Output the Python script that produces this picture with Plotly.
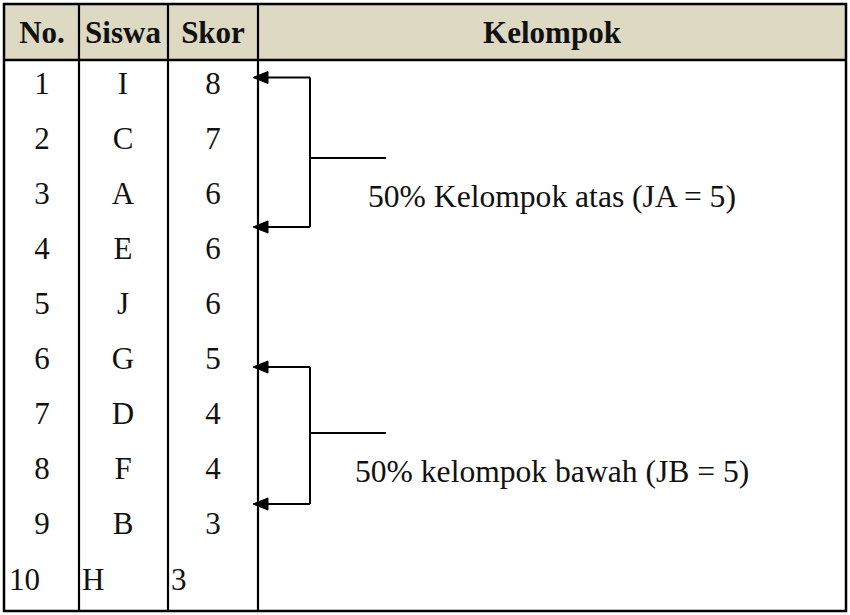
import plotly.graph_objects as go

# ---- data ----
headers = ["No.", "Siswa", "Skor", "Kelompok"]
nomor = [1, 2, 3, 4, 5, 6, 7, 8, 9, 10]
siswa = ["I", "C", "A", "E", "J", "G", "D", "F", "B", "H"]
skor = [8, 7, 6, 6, 6, 5, 4, 4, 3, 3]
group_labels = ["50% Kelompok atas (JA = 5)", "50% kelompok bawah (JB = 5)"]
group_rows = [3, 8]

# ---- layout helpers (pixel -> row units) ----
ROW0, STEP = 82.5, 55.0
def r(p):
    return 1 + (p - ROW0) / STEP

TXT_DY = 3.5 / STEP  # small vertical text nudge

W, H = 850, 615
col_x = [4, 79, 168, 258, 846]
col_center = [42, 123, 213, 552]
left_pad = [9, 82, 171]

FONT = "Liberation Serif"
FS = 31
fig = go.Figure()

# header texts
fig.add_trace(go.Scatter(
    x=col_center, y=[r(32) + TXT_DY] * 4, mode="text", text=headers,
    textposition="middle center",
    textfont=dict(family=FONT, size=FS, color="#111111", weight="bold"),
    hoverinfo="skip", showlegend=False))

# body columns
n = len(nomor)
for ci, vals in enumerate([nomor, siswa, skor]):
    xs = [col_center[ci] if i < n - 1 else left_pad[ci] for i in range(n)]
    ys = [v + TXT_DY if i < n - 1 else v + TXT_DY + 1.5 / STEP for i, v in enumerate(nomor)]
    pos = ["middle center" if i < n - 1 else "middle right" for i in range(n)]
    fig.add_trace(go.Scatter(
        x=xs, y=ys, mode="text", text=[str(v) for v in vals],
        textposition=pos,
        textfont=dict(family=FONT, size=FS, color="#111111"),
        hoverinfo="skip", showlegend=False))

# group labels
fig.add_trace(go.Scatter(
    x=[368, 355], y=[g + 0.05 + TXT_DY for g in group_rows], mode="text", text=group_labels,
    textposition="middle right",
    textfont=dict(family=FONT, size=31.6, color="#111111"),
    hoverinfo="skip", showlegend=False))

shapes = []
shapes.append(dict(type="rect", x0=col_x[0], x1=col_x[-1], y0=r(4), y1=r(60),
                   fillcolor="#DDD9C3", line=dict(width=0), layer="below"))
shapes.append(dict(type="rect", x0=col_x[0], x1=col_x[-1], y0=r(4), y1=r(611),
                   line=dict(color="black", width=2.5)))
shapes.append(dict(type="line", x0=col_x[0], x1=col_x[-1], y0=r(60), y1=r(60),
                   line=dict(color="black", width=2.5)))
for cx in col_x[1:-1]:
    shapes.append(dict(type="line", x0=cx, x1=cx, y0=r(4), y1=r(611),
                       line=dict(color="black", width=2.2)))

def bracket(top, bot, mid):
    out = []
    lw = dict(color="black", width=2)
    out.append(dict(type="line", x0=266, x1=310, y0=r(top), y1=r(top), line=lw))
    out.append(dict(type="line", x0=266, x1=310, y0=r(bot), y1=r(bot), line=lw))
    out.append(dict(type="line", x0=310, x1=310, y0=r(top), y1=r(bot), line=lw))
    out.append(dict(type="line", x0=310, x1=386, y0=r(mid), y1=r(mid), line=lw))
    for yy in (top, bot):
        path = "M 253,{a} L 268,{b} L 268,{c} Z".format(a=r(yy), b=r(yy - 6), c=r(yy + 6))
        out.append(dict(type="path", path=path, fillcolor="black", line=dict(color="black", width=1)))
    return out

shapes += bracket(77.5, 227, 158)
shapes += bracket(367, 504, 433)

fig.update_layout(
    width=W, height=H, margin=dict(l=0, r=0, t=0, b=0),
    paper_bgcolor="white", plot_bgcolor="white",
    xaxis=dict(range=[0, W], visible=False, fixedrange=True),
    yaxis=dict(range=[r(H), r(0)], visible=False, fixedrange=True),
    shapes=shapes,
)

fig.write_html(
    "out.html",
    config={"displayModeBar": False},
    post_script="document.body.style.margin='0';document.documentElement.style.overflow='hidden';",
)
